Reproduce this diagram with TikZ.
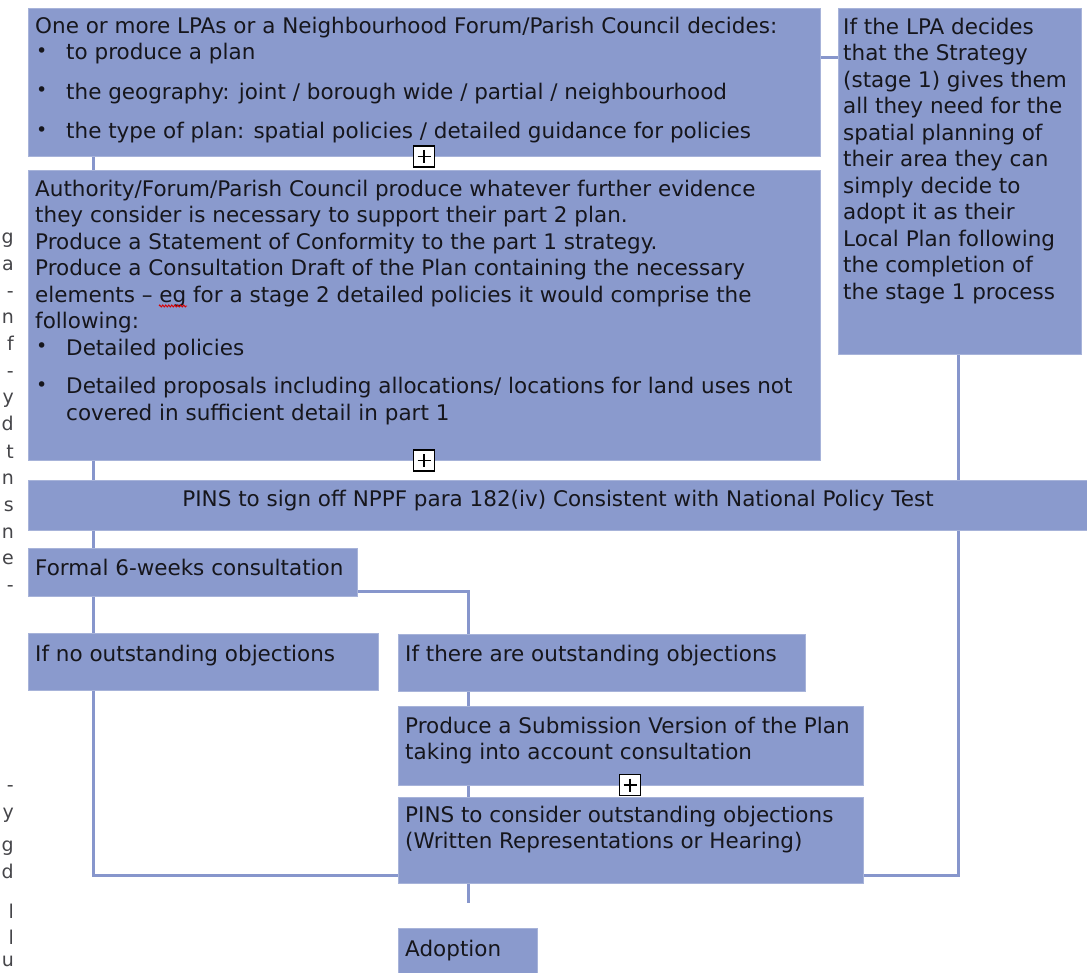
\documentclass[tikz,border=0pt]{standalone}
\usepackage{fontspec}
\setmainfont{DejaVu Sans}
\usetikzlibrary{backgrounds,decorations.pathmorphing}
\definecolor{boxfill}{RGB}{138,154,205}
\definecolor{linec}{RGB}{135,150,204}
\definecolor{txtc}{RGB}{22,22,28}
\newcommand{\bul}{\makebox[31pt][l]{\hspace{1pt}{\fontsize{19}{19}\selectfont\raisebox{2.5pt}{•}}}}
\newcommand{\ind}{\hspace*{31pt}}
\begin{document}
\begin{tikzpicture}[x=1pt,y=-1pt,
  box/.style={fill=boxfill, draw=boxfill!75!white, line width=0.6pt, anchor=north west, inner sep=0pt},
  conn/.style={draw=linec, line width=3pt},
  txt/.style={text=txtc, inner sep=0pt, font=\fontsize{21.5}{26.5}\selectfont, align=left},
  plusbox/.style={draw=black, line width=1.6pt, fill=white, minimum size=21pt, inner sep=0pt,
    path picture={\draw[black,line width=1.4pt]
      ([yshift=-4pt]path picture bounding box.north) -- ([yshift=4pt]path picture bounding box.south)
      ([xshift=4pt]path picture bounding box.west) -- ([xshift=-4pt]path picture bounding box.east);}},
  edge/.style={text=txtc!80!white, inner sep=0pt, font=\fontsize{19}{26.7}\selectfont, anchor=base east}
]
\useasboundingbox (0,0) rectangle (1087,973);

% boxes
\node[box, minimum width=792pt, minimum height=148pt] (b1) at (28,8) {};
\node[box, minimum width=792pt, minimum height=290pt] (b2) at (28,170) {};
\node[box, minimum width=243pt, minimum height=346pt] (rb) at (838,8) {};
\node[box, minimum width=1062pt, minimum height=50pt] (pins) at (28,480) {};
\node[box, minimum width=329pt, minimum height=48pt] (formal) at (28,548) {};
\node[box, minimum width=350pt, minimum height=57pt] (ifno) at (28,633) {};
\node[box, minimum width=407pt, minimum height=57pt] (ifthere) at (398,634) {};
\node[box, minimum width=465pt, minimum height=79pt] (produce) at (398,706) {};
\node[box, minimum width=465pt, minimum height=86pt] (pinsc) at (398,797) {};
\node[box, minimum width=139pt, minimum height=50pt] (adopt) at (398,928) {};

% connectors
\coordinate (bl) at (93,875);
\coordinate (br) at (958,875);
\coordinate (fk) at (468,591);
\coordinate (stub) at (468,903);
\begin{scope}[on background layer]
\draw[conn] (b1.east |- 0,58) -- (rb.west |- 0,58);
\draw[conn] (b1.south -| bl) -- (bl) -- (br) -- (rb.south -| br);
\draw[conn] (formal.east |- fk) -- (fk) -- (ifthere.north -| fk);
\draw[conn] (ifthere.south -| fk) -- (produce.north -| fk);
\draw[conn] (produce.south -| fk) -- (pinsc.north -| fk);
\draw[conn] (pinsc.south -| fk) -- (stub);
\end{scope}

% texts
\node[txt, anchor=north west] (t1) at (35,16.5) {One or more LPAs or a Neighbourhood Forum/Parish Council decides:\\
\bul to produce a plan\\[13pt]
\bul the geography: joint / borough wide / partial / neighbourhood\\[13pt]
\bul the type of plan: spatial policies / detailed guidance for policies};

\node[txt, anchor=north west] (t2) at (35,179.5) {Authority/Forum/Parish Council produce whatever further evidence\\
they consider is necessary to support their part 2 plan.\\
Produce a Statement of Conformity to the part 1 strategy.\\
Produce a Consultation Draft of the Plan containing the necessary\\
elements – eg for a stage 2 detailed policies it would comprise the\\
following:\\
\bul Detailed policies\\[12pt]
\bul Detailed proposals including allocations/ locations for land uses not\\
\ind covered in sufficient detail in part 1};

\node[txt, anchor=north west] (t3) at (843,17.5) {If the LPA decides\\
that the Strategy\\
(stage 1) gives them\\
all they need for the\\
spatial planning of\\
their area they can\\
simply decide to\\
adopt it as their\\
Local Plan following\\
the completion of\\
the stage 1 process};

\node[txt, anchor=base] (t4) at (558,506) {PINS to sign off NPPF para 182(iv) Consistent with National Policy Test};
\node[txt, anchor=base west] (t5) at (35,575) {Formal 6-weeks consultation};
\node[txt, anchor=base west] (t6) at (35,661) {If no outstanding objections};
\node[txt, anchor=base west] (t7) at (405,661) {If there are outstanding objections};
\node[txt, anchor=north west] (t8) at (405,716.5) {Produce a Submission Version of the Plan\\taking into account consultation};
\node[txt, anchor=north west] (t9) at (405,805.5) {PINS to consider outstanding objections\\(Written Representations or Hearing)};
\node[txt, anchor=base west] (t10) at (405,956) {Adoption};

% spell-check squiggle
\draw[red!85!black, line width=0.9pt, decorate, decoration={zigzag, segment length=3pt, amplitude=1pt}] (159,306) -- (187,306);

% plus boxes
\node[plusbox] (p1) at (424,156.5) {};
\node[plusbox] (p2) at (424,460.5) {};
\node[plusbox] (p3) at (630,785) {};

% clipped text at left edge
\node[edge] (e1) at (14,244) {g};
\node[edge] (e2) at (14,271) {a};
\node[edge] (e3) at (14,298) {-};
\node[edge] (e4) at (14,324) {n};
\node[edge] (e5) at (14,351) {f};
\node[edge] (e6) at (14,378) {-};
\node[edge] (e7) at (14,404) {y};
\node[edge] (e8) at (14,431) {d};
\node[edge] (e9) at (14,458) {t};
\node[edge] (e10) at (14,484) {n};
\node[edge] (e11) at (14,511) {s};
\node[edge] (e12) at (14,538) {n};
\node[edge] (e13) at (14,564) {e};
\node[edge] (e14) at (14,591) {-};
\node[edge] (e15) at (14,791) {-};
\node[edge] (e16) at (14,818) {y};
\node[edge] (e17) at (14,851) {g};
\node[edge] (e18) at (14,878) {d};
\node[edge] (e19) at (14,918) {l};
\node[edge] (e20) at (14,944) {l};
\node[edge] (e21) at (14,966) {u};
\end{tikzpicture}
\end{document}
